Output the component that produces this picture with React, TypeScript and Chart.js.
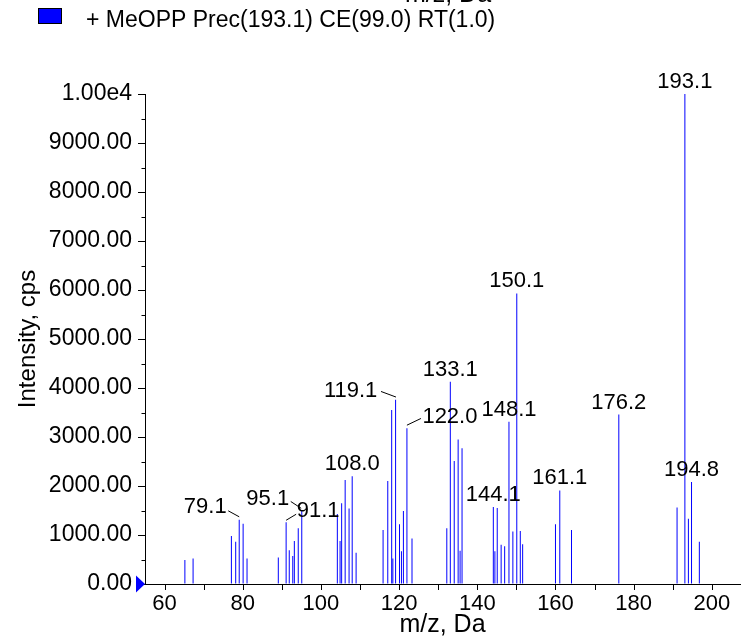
import React, { useEffect, useRef } from 'react';
import { Chart, registerables } from 'chart.js';

Chart.register(...registerables);

// ---- data ----
const mzValues = [
  65.2, 67.3, 77.1, 78.2, 79.1, 80.1, 81.1, 89.1, 91.1, 91.9, 92.8, 93.2, 94.2, 95.1,
  104.2, 104.9, 105.3, 106.2, 107.2, 108.0, 109.0,
  115.9, 117.1, 118.1, 118.4, 119.1, 120.1, 120.6, 121.1, 122.0, 123.3,
  132.2, 133.1, 134.1, 135.1, 135.6, 136.1,
  144.1, 144.5, 145.1, 146.1, 147.0, 148.1, 149.1, 150.1, 151.0, 151.6,
  160.0, 161.1, 164.1, 176.2, 191.1, 193.1, 194.0, 194.8, 196.8,
];
const intensities = [
  490, 520, 980, 860, 1310, 1230, 520, 540, 1260, 690, 570, 880, 1140, 1490,
  1430, 880, 1650, 2120, 1540, 2200, 640,
  1100, 2100, 3550, 520, 3760, 1220, 670, 1490, 3180, 930,
  1140, 4130, 2510, 2950, 680, 2770,
  1570, 670, 1550, 800, 770, 3310, 1070, 5930, 1080, 810,
  1220, 1910, 1100, 3460, 1560, 10000, 1330, 2080, 860,
];
const peakLabels = [
  '79.1', '95.1', '91.1', '108.0', '119.1', '122.0', '133.1', '144.1',
  '148.1', '150.1', '161.1', '176.2', '193.1', '194.8',
];
const xTickValues = [60, 80, 100, 120, 140, 160, 180, 200];
const xTickLabels = ['60', '80', '100', '120', '140', '160', '180', '200'];
const yTickValues = [0, 1000, 2000, 3000, 4000, 5000, 6000, 7000, 8000, 9000, 10000];
const yTickLabels = [
  '0.00', '1000.00', '2000.00', '3000.00', '4000.00', '5000.00',
  '6000.00', '7000.00', '8000.00', '9000.00', '1.00e4',
];
const legendText = '+ MeOPP Prec(193.1) CE(99.0) RT(1.0)';
const xTitle = 'm/z, Da';
const yTitle = 'Intensity, cps';

// ---- label placement (pixel offsets from bar top) ----
const labelPlacements: Record<string, { dx: number; dy: number; leader?: number[] }> = {
  '79.1': { dx: -34, dy: -13, leader: [-11, -9, 0, -3] },
  '95.1': { dx: -34, dy: -12, leader: [-11, -9.5, -0.6, -2.7] },
  '91.1': { dx: 32, dy: -11, leader: [0, -2, 10, -8] },
  '119.1': { dx: -45, dy: -8.5, leader: [-14.6, -8.3, 0.4, -2.7] },
  '122.0': { dx: 43, dy: -11.3, leader: [0, -3, 14, -9.7] },
};

const FONT = 'Arial, "Liberation Sans", sans-serif';
const BLUE = '#0000ff';

const decorPlugin = {
  id: 'decor',
  afterDraw(chart: any) {
    const ctx = chart.ctx;
    const xs = chart.scales.x;
    const ys = chart.scales.y;
    const area = chart.chartArea;
    ctx.save();
    // tick marks
    ctx.strokeStyle = '#000';
    ctx.lineWidth = 1;
    ctx.beginPath();
    xs.ticks.forEach((t: any) => {
      const px = Math.round(xs.getPixelForValue(t.value)) + 0.5;
      ctx.moveTo(px, area.bottom);
      ctx.lineTo(px, area.bottom + 6);
    });
    ys.ticks.forEach((t: any) => {
      const py = Math.round(ys.getPixelForValue(t.value)) + 0.5;
      const major = yTickValues.indexOf(t.value) >= 0;
      ctx.moveTo(area.left, py);
      ctx.lineTo(area.left - (major ? 7 : 3.5), py);
    });
    ctx.stroke();

    // origin marker triangle
    const ox = area.left;
    const oy = ys.getPixelForValue(0);
    ctx.fillStyle = BLUE;
    ctx.beginPath();
    ctx.moveTo(ox, oy);
    ctx.lineTo(ox - 9, oy - 8.5);
    ctx.lineTo(ox - 9, oy + 8.5);
    ctx.closePath();
    ctx.fill();

    // peak labels
    const meta = chart.getDatasetMeta(0);
    ctx.font = `22px ${FONT}`;
    ctx.fillStyle = '#000';
    ctx.textAlign = 'center';
    ctx.textBaseline = 'middle';
    peakLabels.forEach((lbl) => {
      const idx = mzValues.indexOf(parseFloat(lbl));
      if (idx < 0) return;
      const el = meta.data[idx];
      const px = el.x;
      const py = el.y;
      const p = labelPlacements[lbl] || { dx: 0, dy: -12 };
      ctx.fillText(lbl, px + p.dx, py + p.dy);
      if (p.leader) {
        ctx.beginPath();
        ctx.moveTo(px + p.leader[0], py + p.leader[1]);
        ctx.lineTo(px + p.leader[2], py + p.leader[3]);
        ctx.stroke();
      }
    });

    // legend
    ctx.fillStyle = BLUE;
    ctx.fillRect(38.5, 8.5, 23, 15);
    ctx.strokeStyle = '#000';
    ctx.strokeRect(38.5, 8.5, 23, 15);
    ctx.fillStyle = '#000';
    ctx.textAlign = 'left';
    ctx.font = `23px ${FONT}`;
    ctx.fillText(legendText, 86, 21);
    // partially visible title at the very top
    ctx.textAlign = 'center';
    ctx.textBaseline = 'alphabetic';
    ctx.font = `25px ${FONT}`;
    ctx.fillText(xTitle, 448, 2);
    ctx.restore();
  },
};

export default function App() {
  const ref = useRef<HTMLCanvasElement>(null);
  useEffect(() => {
    if (!ref.current) return;
    Chart.defaults.font.family = FONT;
    const chart = new Chart(ref.current, {
      type: 'bar',
      data: {
        datasets: [
          {
            data: mzValues.map((x, i) => ({ x, y: intensities[i] })),
            backgroundColor: BLUE,
            borderWidth: 0,
            barThickness: 1,
            inflateAmount: 0,
          } as any,
        ],
      },
      options: {
        animation: false,
        responsive: false,
        maintainAspectRatio: false,
        layout: { padding: { top: 94, right: 9, left: 0, bottom: 0 } },
        plugins: { legend: { display: false }, tooltip: { enabled: false } },
        scales: {
          x: {
            type: 'linear',
            min: 55,
            max: 207.2,
            offset: false,
            grid: { display: true, drawOnChartArea: false, drawTicks: false },
            border: { display: true, color: '#000', width: 1 },
            ticks: {
              stepSize: 10,
              includeBounds: false,
              autoSkip: false,
              maxRotation: 0,
              padding: 7,
              color: '#000',
              font: { size: 22 },
              callback: (v: any) => {
                const i = xTickValues.indexOf(Number(v));
                return i >= 0 ? xTickLabels[i] : '';
              },
            },
            title: {
              display: true,
              text: xTitle,
              color: '#000',
              font: { size: 25 },
              padding: { top: 0, bottom: 0 },
            },
            afterFit: (s: any) => {
              s.height = 56;
            },
          } as any,
          y: {
            type: 'linear',
            min: 0,
            max: 10000,
            grid: { display: true, drawOnChartArea: false, drawTicks: false },
            border: { display: true, color: '#000', width: 1 },
            ticks: {
              stepSize: 500,
              autoSkip: false,
              padding: 13,
              color: '#000',
              font: { size: 23 },
              callback: (v: any) => {
                const i = yTickValues.indexOf(Number(v));
                return i >= 0 ? yTickLabels[i] : '';
              },
            },
            title: {
              display: true,
              text: yTitle,
              color: '#000',
              font: { size: 24 },
              padding: { top: 14, bottom: 0 },
            },
            afterFit: (s: any) => {
              s.width = 145;
            },
          } as any,
        },
      },
      plugins: [decorPlugin],
    });
    return () => chart.destroy();
  }, []);
  return (
    <div style={{ position: 'absolute', left: 0, top: 0, width: 749, height: 640, background: '#fff' }}>
      <canvas ref={ref} width={749} height={640} style={{ display: 'block' }} />
    </div>
  );
}
